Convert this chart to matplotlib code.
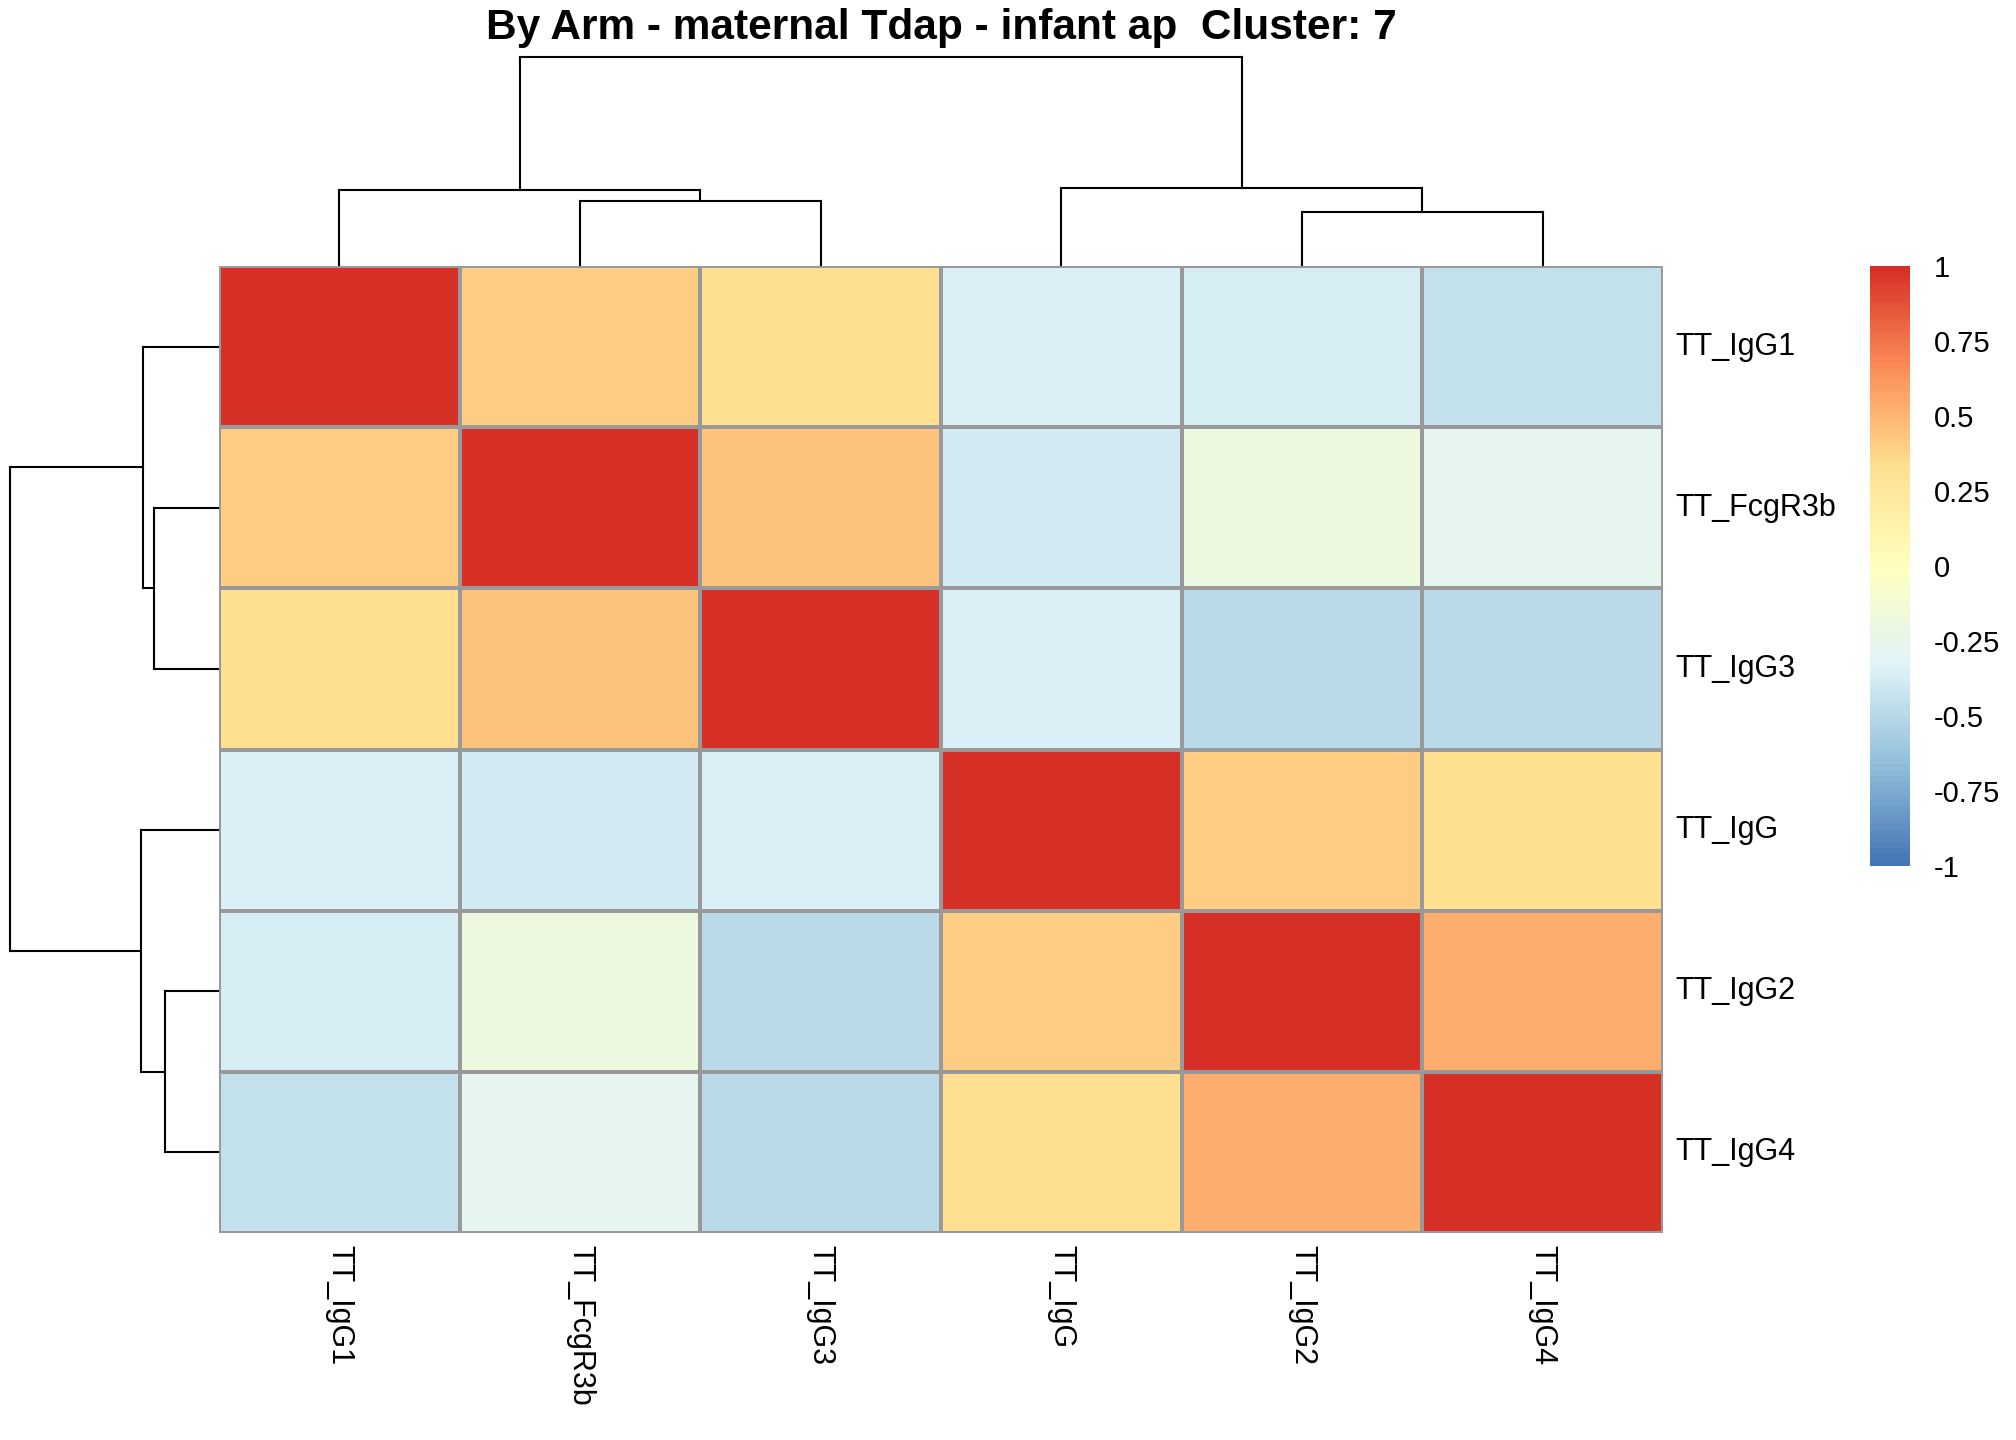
import numpy as np
import matplotlib
matplotlib.use("Agg")
import matplotlib.pyplot as plt
from matplotlib.colors import LinearSegmentedColormap, Normalize
from matplotlib.cm import ScalarMappable

plt.rcParams['font.family'] = ['Liberation Sans', 'DejaVu Sans']

# ---------------- data ----------------
labels = ["TT_IgG1", "TT_FcgR3b", "TT_IgG3", "TT_IgG", "TT_IgG2", "TT_IgG4"]
row_IgG1   = [1.00, 0.40, 0.32, -0.34, -0.37, -0.46]
row_FcgR3b = [0.40, 1.00, 0.45, -0.39, -0.20, -0.28]
row_IgG3   = [0.32, 0.45, 1.00, -0.34, -0.49, -0.49]
row_IgG    = [-0.34, -0.39, -0.34, 1.00, 0.40, 0.33]
row_IgG2   = [-0.37, -0.20, -0.49, 0.40, 1.00, 0.52]
row_IgG4   = [-0.46, -0.28, -0.49, 0.33, 0.52, 1.00]
matrix = np.array([row_IgG1, row_FcgR3b, row_IgG3, row_IgG, row_IgG2, row_IgG4])

# dendrogram merges (scipy-like): child a, child b, relative height
merge_a = [1, 0, 4, 3, 7]
merge_b = [2, 6, 5, 8, 9]
merge_h = [0.307, 0.36, 0.256, 0.37, 1.0]

cbar_ticks = [1, 0.75, 0.5, 0.25, 0, -0.25, -0.5, -0.75, -1]
cbar_ticklabels = ["1", "0.75", "0.5", "0.25", "0", "-0.25", "-0.5", "-0.75", "-1"]
title = "By Arm - maternal Tdap - infant ap  Cluster: 7"

# ---------------- layout ----------------
W, H = 2016, 1440
fig = plt.figure(figsize=(W / 100, H / 100), dpi=100)

def px_axes(x0, y0, x1, y1):
    return fig.add_axes([x0 / W, 1 - y1 / H, (x1 - x0) / W, (y1 - y0) / H])

hm_l, hm_r, hm_t, hm_b = 219, 1663, 266, 1233

colors7 = ["#4575B4", "#91BFDB", "#E0F3F8", "#FFFFBF", "#FEE090", "#FC8D59", "#D73027"]
cmap = LinearSegmentedColormap.from_list("rdylbu_r", colors7, N=100)
norm = Normalize(vmin=-1, vmax=1)

# heatmap
ax = px_axes(hm_l, hm_t, hm_r, hm_b)
n = len(labels)
ax.pcolormesh(np.arange(n + 1), np.arange(n + 1), matrix, cmap=cmap, norm=norm,
              edgecolors="#999999", linewidth=1.6)
ax.set_xlim(0, n)
ax.set_ylim(n, 0)
for s in ax.spines.values():
    s.set_visible(False)
ax.set_xticks([])
ax.set_yticks([])
cw = (hm_r - hm_l) / n
ch = (hm_b - hm_t) / n
for i, lab in enumerate(labels):
    ax.text(n + 12 / cw, i + 0.5, lab, ha="left", va="center", fontsize=22)
    ax.text(i + 0.5, n + 12 / ch, lab, ha="center", va="top", rotation=270, fontsize=22)

# dendrogram helper
def dendro_segments():
    pos = {i: i + 0.5 for i in range(n)}
    hgt = {i: 0.0 for i in range(n)}
    segs = []
    for k, (a, b, h) in enumerate(zip(merge_a, merge_b, merge_h)):
        node = n + k
        segs.append(((pos[a], hgt[a]), (pos[a], h)))
        segs.append(((pos[a], h), (pos[b], h)))
        segs.append(((pos[b], h), (pos[b], hgt[b])))
        pos[node] = (pos[a] + pos[b]) / 2
        hgt[node] = h
    return segs

segs = dendro_segments()

# column dendrogram
axc = px_axes(hm_l, 57, hm_r, hm_t - 1)
for (x0, y0), (x1, y1) in segs:
    axc.plot([x0, x1], [y0, y1], color="black", lw=1.5, solid_capstyle="projecting", clip_on=False)
axc.set_xlim(0, n)
axc.set_ylim(0, 1)
axc.axis("off")

# row dendrogram
axr = px_axes(10, hm_t, hm_l - 1, hm_b)
for (x0, y0), (x1, y1) in segs:
    axr.plot([y0, y1], [x0, x1], color="black", lw=1.5, solid_capstyle="projecting", clip_on=False)
axr.set_ylim(n, 0)
axr.set_xlim(1, 0)
axr.axis("off")

# colorbar
cax = px_axes(1870, 266, 1910, 866)
cb = fig.colorbar(ScalarMappable(norm=norm, cmap=cmap), cax=cax)
cb.outline.set_visible(False)
cb.set_ticks(cbar_ticks)
cb.set_ticklabels(cbar_ticklabels)
cax.tick_params(length=0, labelsize=21, pad=17)

# title
fig.text((hm_l + hm_r) / 2 / W, 1 - 39 / H, title, ha="center", va="baseline",
         fontsize=30.5, fontweight="bold")

fig.savefig("out.png", dpi=100, facecolor="white")
